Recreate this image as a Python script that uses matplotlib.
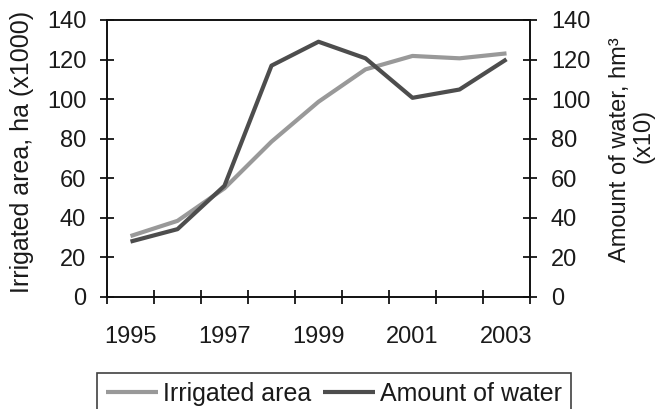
import matplotlib
matplotlib.use("Agg")
import matplotlib.pyplot as plt
import numpy as np

plt.rcParams['font.family'] = ['Liberation Sans', 'DejaVu Sans']

years = ['1995', '1996', '1997', '1998', '1999', '2000', '2001', '2002', '2003']
irrigated_area = [30.6, 38.3, 54.8, 78.4, 98.6, 115.0, 121.8, 120.6, 123.1]
amount_of_water = [27.8, 34.1, 56.1, 116.9, 129.0, 120.6, 100.6, 104.8, 120.1]
y_ticks = [0, 20, 40, 60, 80, 100, 120, 140]

fs = 17
tc = '#1a1a1a'

fig = plt.figure(figsize=(6.67, 4.09), dpi=100)
ax = fig.add_axes([107/667, 1-296.5/409, (530-107)/667, (296.5-20)/409])
ax2 = ax.twinx()

x = np.arange(len(years))
l1, = ax.plot(x, irrigated_area, color='#999999', lw=3, solid_capstyle='butt', label='Irrigated area')
l2, = ax2.plot(x, amount_of_water, color='#4d4d4d', lw=3, solid_capstyle='butt', label='Amount of water')

for a in (ax, ax2):
    a.set_ylim(0, 140)
    a.set_xlim(-0.5, len(years) - 0.5)
    for s in a.spines.values():
        s.set_linewidth(1.2)
        s.set_color('#111111')

ax.set_yticks(y_ticks)
ax.set_yticklabels([str(v) for v in y_ticks])
ax2.set_yticks(y_ticks)
ax2.set_yticklabels([str(v) for v in y_ticks])
ax.tick_params(axis='y', direction='inout', length=10, width=1.2, pad=10, labelsize=fs, labelcolor=tc)
ax2.tick_params(axis='y', direction='inout', length=10, width=1.2, pad=10, labelsize=fs, labelcolor=tc)

# category boundaries as tick marks, labels every other category
ax.set_xticks(np.arange(-0.5, len(years), 1.0))
ax.set_xticklabels([])
ax.tick_params(axis='x', which='major', direction='inout', length=10, width=1.2)
ax.set_xticks(x[::2], minor=True)
ax.set_xticklabels(years[::2], minor=True)
ax.tick_params(axis='x', which='minor', length=0, pad=21, labelsize=fs, labelcolor=tc)

fig.text(22/667, 1-152/409, 'Irrigated area, ha (x1000)', rotation=90,
         ha='center', va='center', fontsize=18, color=tc)
fig.text(620/667, 1-150/409, 'Amount of water, hm³', rotation=90,
         ha='center', va='center', fontsize=fs, color=tc)
fig.text(644/667, 1-136/409, '(x10)', rotation=90,
         ha='center', va='center', fontsize=fs, color=tc)

leg = fig.legend([l1, l2], ['Irrigated area', 'Amount of water'], loc='upper left',
                 bbox_to_anchor=(97/667, 1-373/409), ncol=2, fontsize=18,
                 frameon=True, fancybox=False, borderpad=0.35, handlelength=2.1,
                 handletextpad=0.2, columnspacing=0.45, borderaxespad=0)
leg.get_frame().set_edgecolor('#111111')
leg.get_frame().set_linewidth(1.2)
for t in leg.get_texts():
    t.set_color(tc)

fig.savefig('out.png', dpi=100)
